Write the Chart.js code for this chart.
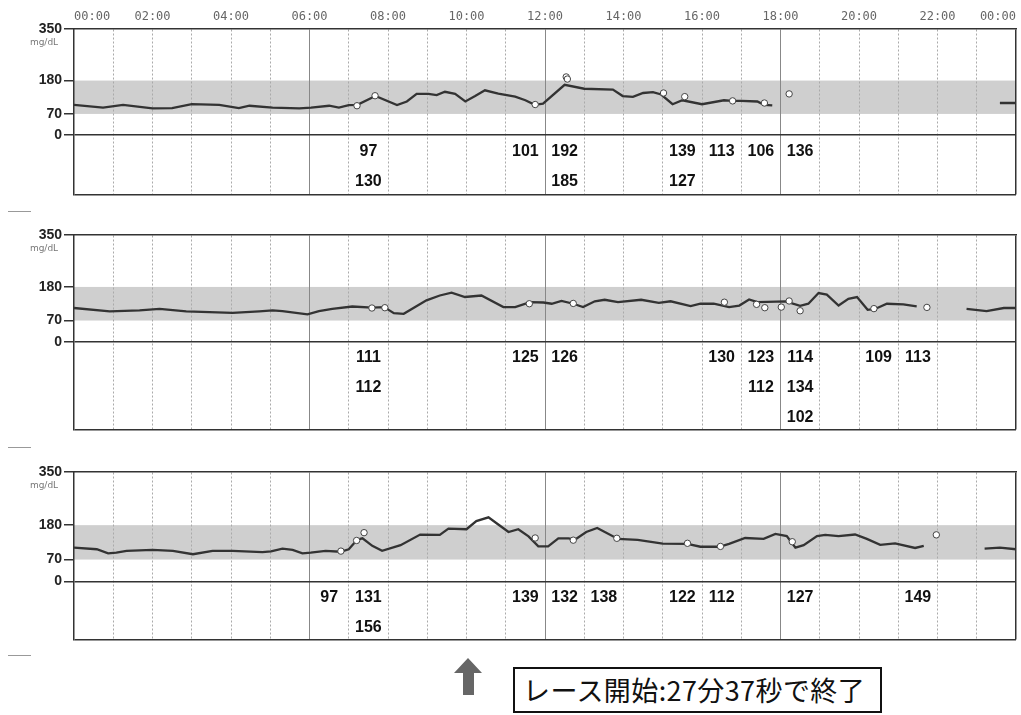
<!DOCTYPE html>
<html>
<head>
<meta charset="utf-8">
<script src="https://cdn.jsdelivr.net/npm/chart.js@4"></script>
<style>
  body { margin: 0; background: #fff; }
  #page { position: relative; width: 1021px; height: 715px; overflow: hidden; background: #fff; }
  #page canvas { position: absolute; left: 0; }
  .fold { position: absolute; left: 8px; width: 23px; height: 0; border-top: 1px solid #999; }
  #arrow { position: absolute; left: 453px; top: 657px; }
  #note {
    position: absolute; left: 513px; top: 667px; width: 357px; height: 42px;
    border: 2px solid #111; padding-left: 8px;
    font: 27px "Noto Sans CJK JP", sans-serif; line-height: 42px; color: #111; white-space: nowrap;
    letter-spacing: 0.4px;
  }
</style>
</head>
<body>
<div id="page">
  <canvas id="day1" width="1021" height="205" style="top:0px"></canvas>
  <canvas id="day2" width="1021" height="235" style="top:205px"></canvas>
  <canvas id="day3" width="1021" height="210" style="top:440px"></canvas>
  <div class="fold" style="top:211px"></div>
  <div class="fold" style="top:447px"></div>
  <div class="fold" style="top:655px"></div>
  <svg id="arrow" width="31" height="40"><polygon points="15,1 29,16 21,16 21,38 10,38 10,16 1,16" fill="#666"/></svg>
  <div id="note">レース開始:27分37秒で終了</div>
</div>
<script>
// hour axis labels, every 2 hours
const hourLabels = ['00:00', '02:00', '04:00', '06:00', '08:00', '10:00', '12:00',
                    '14:00', '16:00', '18:00', '20:00', '22:00', '00:00'];
const glucoseTicks = [0, 70, 180, 350];
const targetLow = 70;
const targetHigh = 180;

// sensor trace, time in hours, null = no data
const day1Time = [0, 0.74, 1.25, 2.0, 2.5, 3.0, 3.7, 4.2, 4.47, 5.06, 5.74, 6.04, 6.5, 6.75, 7.0, 7.22, 7.68,
  8.23, 8.48, 8.73, 9.03, 9.24, 9.45, 9.71, 9.97, 10.22, 10.47, 10.81, 11.24, 11.5, 11.74, 11.95, 12.5,
  13.0, 13.73, 13.98, 14.24, 14.5, 14.75, 14.96, 15.25, 15.5, 16.0, 16.56, 16.77, 17.0, 17.41, 17.58,
  17.79, 20.0, 23.59, 24];
const day1Glucose = [100, 91, 100, 88, 89, 102, 100, 89, 97, 91, 88, 91, 97, 91, 99, 100, 129,
  99, 111, 136, 136, 132, 143, 136, 111, 129, 148, 137, 127, 115, 100, 104, 166,
  153, 150, 129, 126, 139, 142, 134, 102, 115, 102, 115, 113, 113, 111, 100,
  98, null, 106, 106];

const day2Time = [0, 0.91, 1.67, 2.18, 2.86, 4.04, 4.72, 5.06, 5.31, 5.95, 6.24, 6.58, 7.09, 7.6, 7.9,
  8.15, 8.4, 8.98, 9.32, 9.62, 9.96, 10.38, 10.94, 11.24, 11.62, 11.96, 12.17, 12.42, 12.72, 12.97,
  13.27, 13.52, 13.86, 14.45, 14.9, 15.2, 15.71, 15.96, 16.3, 16.69, 16.95, 17.2, 17.41, 18.13, 18.5,
  18.71, 18.97, 19.18, 19.48, 19.73, 19.95, 20.22, 20.41, 20.71, 21.13, 21.47, 22.0, 22.74, 23.25,
  23.69, 24];
const day2Glucose = [111, 100, 103, 108, 100, 95, 100, 103, 101, 90, 101, 108, 116, 112, 114,
  94, 92, 136, 152, 161, 147, 152, 114, 114, 130, 129, 125, 134, 125, 114,
  133, 138, 130, 138, 128, 133, 117, 125, 125, 114, 119, 139, 130, 133, 118,
  125, 160, 155, 119, 141, 147, 105, 108, 125, 123, 116, null, 108, 101,
  111, 111];

const day3Time = [0, 0.58, 0.87, 1.08, 1.34, 2.0, 2.52, 3.03, 3.53, 4.04, 4.8, 5.02, 5.31, 5.57, 5.82,
  6.03, 6.41, 6.79, 7.0, 7.22, 7.35, 7.6, 7.85, 8.32, 8.82, 9.32, 9.54, 10.0, 10.25, 10.56, 10.81,
  11.07, 11.32, 11.58, 11.83, 12.08, 12.34, 12.6, 12.77, 13.05, 13.33, 13.86, 14.36, 15.0, 15.63,
  15.96, 16.44, 16.69, 17.1, 17.57, 17.87, 18.16, 18.38, 18.59, 18.93, 19.14, 19.48, 19.9, 20.2,
  20.54, 20.92, 21.43, 21.65, 22.5, 23.2, 23.59, 24];
const day3Glucose = [108, 103, 90, 92, 98, 101, 98, 87, 98, 98, 94, 96, 105, 101, 90,
  92, 98, 95, 103, 134, 138, 114, 98, 116, 150, 149, 169, 167, 193, 205, 182,
  158, 167, 144, 112, 112, 138, 138, 134, 158, 171, 136, 133, 121, 120,
  111, 111, 120, 139, 136, 152, 145, 108, 116, 145, 149, 145, 150, 136,
  117, 122, 107, 114, null, 105, 108, 103];

// finger stick readings (circles + hourly table below the axis)
const day1MeterTime = [7.21, 7.67, 11.75, 12.54, 12.57, 15.02, 15.56, 16.78, 17.59, 18.22];
const day1MeterValue = [97, 130, 101, 192, 185, 139, 127, 113, 106, 136];
const day2MeterTime = [7.59, 7.92, 11.6, 12.72, 16.57, 17.39, 17.6, 18.02, 18.22, 18.5, 20.38, 21.73];
const day2MeterValue = [111, 112, 125, 126, 130, 123, 112, 114, 134, 102, 109, 113];
const day3MeterTime = [6.8, 7.2, 7.39, 11.75, 12.72, 13.83, 15.63, 16.47, 18.3, 21.97];
const day3MeterValue = [97, 131, 156, 139, 132, 138, 122, 112, 127, 149];

const boldNarrow = '"Liberation Sans Narrow", "Liberation Sans", Arial, sans-serif';

function drawPanel(id, yMin, padTop, padBottom, showHours, times, glucose, meterTimes, meterValues) {
  const trace = times.map((t, i) => ({ x: t, y: glucose[i] }));
  const meters = meterTimes.map((t, i) => ({ x: t, y: meterValues[i] }));

  const panelPlugin = {
    id: 'panel',
    beforeDraw(chart) {
      const { ctx, chartArea, scales: { y } } = chart;
      const top = y.getPixelForValue(targetHigh);
      const bottom = y.getPixelForValue(targetLow);
      ctx.save();
      ctx.fillStyle = '#cfcfcf';
      ctx.fillRect(chartArea.left, top, chartArea.right - chartArea.left, bottom - top);
      ctx.restore();
    },
    afterDraw(chart) {
      const { ctx, chartArea, scales: { x, y } } = chart;
      ctx.save();
      ctx.fillStyle = '#777';
      ctx.font = '9px "DejaVu Sans", sans-serif';
      ctx.textAlign = 'center';
      ctx.textBaseline = 'middle';
      ctx.fillText('mg/dL', chartArea.left - 30, y.getPixelForValue(350) + 14);

      // hourly table of meter readings
      const rows = {};
      meterTimes.forEach((t, i) => {
        const h = Math.floor(t);
        (rows[h] = rows[h] || []).push(meterValues[i]);
      });
      const zero = y.getPixelForValue(0);
      ctx.fillStyle = '#111';
      ctx.font = 'bold 16px ' + boldNarrow;
      Object.keys(rows).forEach(h => {
        const cx = x.getPixelForValue(Number(h) + 0.5);
        rows[h].forEach((v, r) => ctx.fillText(String(v), cx, zero + 16 + r * 30));
      });
      ctx.restore();
    }
  };

  new Chart(document.getElementById(id), {
    type: 'line',
    data: {
      datasets: [
        { data: meters, showLine: false, pointRadius: 3.2, pointBackgroundColor: '#fff',
          pointBorderColor: '#444', pointBorderWidth: 1 },
        { data: trace, borderColor: '#333', borderWidth: 2.3, pointRadius: 0, spanGaps: false, tension: 0 }
      ]
    },
    options: {
      responsive: false,
      animation: false,
      events: [],
      layout: { padding: { top: padTop, bottom: padBottom, right: 2, left: 0 } },
      plugins: { legend: { display: false }, tooltip: { enabled: false } },
      scales: {
        x: {
          type: 'linear', position: 'top', min: 0, max: 24,
          afterBuildTicks: s => { s.ticks = Array.from({ length: 25 }, (_, h) => ({ value: h })); },
          afterFit: s => { s.height = showHours ? 29 : 0; },
          ticks: {
            display: showHours, autoSkip: false, maxRotation: 0, align: 'inner', padding: 5,
            color: '#666', font: { family: '"DejaVu Sans Mono", monospace', size: 12 },
            callback: v => (v % 2 === 0 ? hourLabels[v / 2] : '')
          },
          grid: {
            drawTicks: false,
            color: c => (c.tick.value === 0 ? 'rgba(0,0,0,0)' : c.tick.value === 24 ? '#333'
              : c.tick.value % 6 === 0 ? '#888' : '#aaa'),
            lineWidth: c => (c.tick.value === 24 ? 1.5 : 1)
          },
          border: { color: '#333', width: 1.5,
            dash: c => (c.tick && c.tick.value % 6 !== 0 ? [2, 2] : []) }
        },
        y: {
          min: yMin, max: 350,
          afterBuildTicks: s => { s.ticks = [yMin].concat(glucoseTicks).map(v => ({ value: v })); },
          afterFit: s => { s.width = 74; },
          ticks: {
            padding: 2, color: '#222',
            font: { family: boldNarrow, size: 14, weight: 'bold' },
            callback: v => (v === yMin ? '' : String(v))
          },
          grid: {
            tickLength: 10,
            color: c => (c.tick.value === 0 || c.tick.value === yMin ? '#333' : 'rgba(0,0,0,0)'),
            tickColor: c => (c.tick.value === yMin ? 'rgba(0,0,0,0)' : '#333'),
            lineWidth: 1.5, tickWidth: 1.5
          },
          border: { color: '#333', width: 1.5 }
        }
      }
    },
    plugins: [panelPlugin]
  });
}

drawPanel('day1', -196, 0, 6, true, day1Time, day1Glucose, day1MeterTime, day1MeterValue);
drawPanel('day2', -287, 30, 3, false, day2Time, day2Glucose, day2MeterTime, day2MeterValue);
drawPanel('day3', -186, 32, 8, false, day3Time, day3Glucose, day3MeterTime, day3MeterValue);
</script>
</body>
</html>
